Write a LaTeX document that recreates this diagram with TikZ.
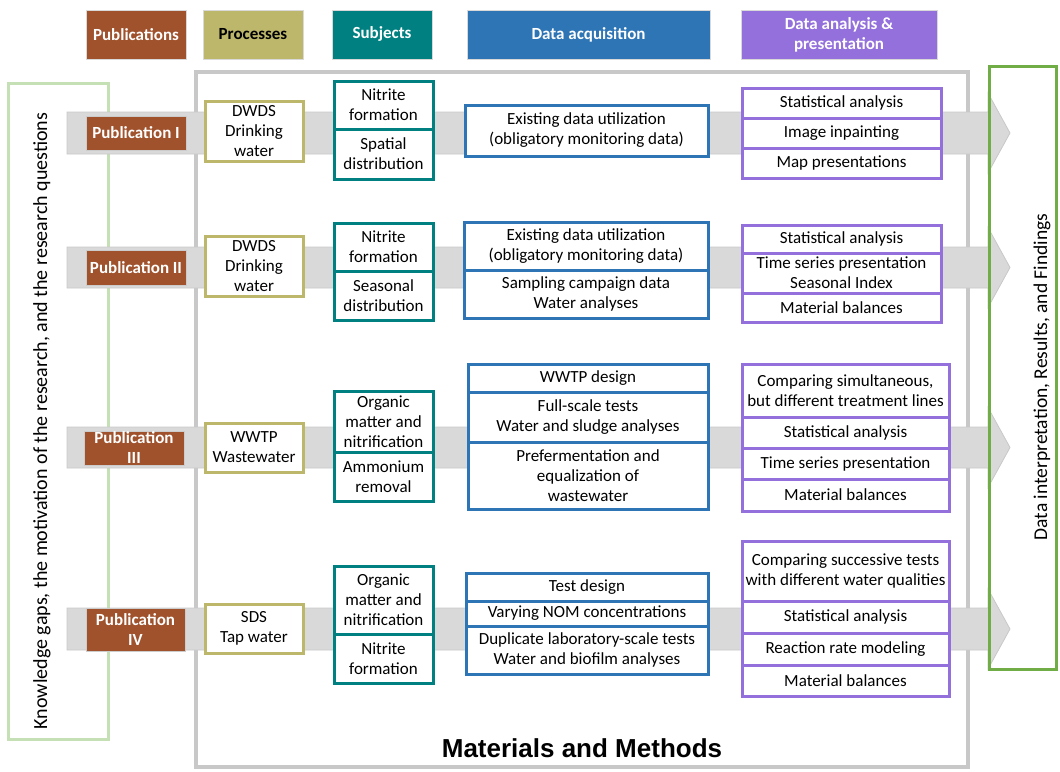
\documentclass[tikz,border=0pt]{standalone}
\usepackage{fontspec}
\setmainfont{Carlito}
\newfontfamily\mmfont{Liberation Sans}
\usepackage{xcolor}

\definecolor{pubbrown}{HTML}{A0522D}
\definecolor{procolive}{HTML}{BDB76B}
\definecolor{subjteal}{HTML}{008080}
\definecolor{acqblue}{HTML}{2E75B6}
\definecolor{anapurple}{HTML}{9370DB}
\definecolor{mmgray}{HTML}{C8C8C8}
\definecolor{bandgray}{HTML}{D9D9D9}
\definecolor{kgreen}{HTML}{C5E0B4}
\definecolor{rgreen}{HTML}{70AD47}

\newcommand{\bodyfont}{\fontsize{17}{20}\selectfont}
% cell: style, name, x1, y1, x2, y2, text (picture units are pixels)
\newcommand{\cellat}[7]{\node[#1, minimum width={#5-#3}, minimum height={#6-#4}] (#2) at ({(#3+#5)/2},{(#4+#6)/2}) {#7};}
% gray band with arrow head, from y1 to y2
\newcommand{\bandarrow}[2]{\filldraw[band] (67,#1) -- (988,#1) -- (988,{(#1+#2)/2-40}) -- (1010,{(#1+#2)/2}) -- (988,{(#1+#2)/2+40}) -- (988,#2) -- (67,#2) -- cycle;}

\tikzset{
    cell/.style={rectangle, outer sep=0pt, inner sep=1pt, line width=3pt, fill=white, align=center, font=\bodyfont},
    hdr/.style={cell, line width=1pt, draw=gray!30, text=white, font=\bodyfont\bfseries},
    pub/.style={cell, line width=0.6pt, draw=gray!40, fill=pubbrown, text=white, font=\bodyfont\bfseries},
    proc/.style={cell, draw=procolive},
    subj/.style={cell, draw=subjteal},
    acq/.style={cell, draw=acqblue},
    ana/.style={cell, draw=anapurple},
    band/.style={fill=bandgray, draw=mmgray, line width=0.8pt},
}

\begin{document}
\begin{tikzpicture}[x=1pt, y=-1pt]
\useasboundingbox (0,0) rectangle (1060,771);

% headers
\cellat{hdr, fill=pubbrown}{hpub}{86}{10}{186}{59}{Publications}
\cellat{hdr, fill=procolive, text=black}{hproc}{203}{10}{303}{59}{Processes}
\cellat{hdr, fill=subjteal}{hsubj}{332}{10}{432}{59}{\strut Subjects}
\cellat{hdr, fill=acqblue}{hacq}{467}{10}{710}{59}{Data acquisition}
\cellat{hdr, fill=anapurple}{hana}{741}{10}{937}{59}{Data analysis \&\\presentation}

% frames
\draw[kgreen, line width=3pt] (8,83) rectangle (108,739);
\node[rotate=90, font=\fontsize{20}{24}\selectfont] (kgap) at (42,421) {Knowledge gaps, the motivation of the research, and the research questions};
\draw[mmgray, line width=4pt] (196,72) rectangle (968,767);
\node[font=\mmfont\fontsize{26}{30}\selectfont\bfseries] (mm) at (582,748) {Materials and Methods};

% bands
\bandarrow{112}{154}
\bandarrow{247}{288}
\bandarrow{427}{468}
\bandarrow{608}{650}

\draw[rgreen, line width=3pt] (989,66) rectangle (1056,669);
\node[rotate=90, font=\fontsize{19.5}{23}\selectfont] (dirf) at (1042,377) {Data interpretation, Results, and Findings};

% Publication I
\cellat{pub}{pub1}{86}{116}{186}{150}{Publication I}
\cellat{proc}{proc1}{205}{101}{303}{161}{DWDS\\Drinking\\water}
\cellat{subj}{subj1a}{334}{81}{433}{129}{Nitrite\\formation}
\cellat{subj}{subj1b}{334}{129}{433}{179}{Spatial\\distribution}
\cellat{acq}{acq1a}{465}{105}{708}{156}{Existing data utilization\\(obligatory monitoring data)}
\cellat{ana}{ana1a}{742}{88}{941}{118}{Statistical analysis}
\cellat{ana}{ana1b}{742}{118}{941}{148}{Image inpainting}
\cellat{ana}{ana1c}{742}{148}{941}{178}{Map presentations}

% Publication II
\cellat{pub}{pub2}{86}{250}{186}{285}{Publication II}
\cellat{proc}{proc2}{205}{236}{303}{296}{DWDS\\Drinking\\water}
\cellat{subj}{subj2a}{334}{223}{433}{271}{Nitrite\\formation}
\cellat{subj}{subj2b}{334}{271}{433}{320}{Seasonal\\distribution}
\cellat{acq}{acq2a}{464}{222}{708}{270}{Existing data utilization\\(obligatory monitoring data)}
\cellat{acq}{acq2b}{464}{270}{708}{318}{Sampling campaign data\\Water analyses}
\cellat{ana}{ana2a}{742}{225}{941}{253}{Statistical analysis}
\cellat{ana}{ana2b}{742}{253}{941}{293}{Time series presentation\\Seasonal Index}
\cellat{ana}{ana2c}{742}{293}{941}{322}{Material balances}

% Publication III
\cellat{pub}{pub3}{84}{431}{184}{465}{Publication\\III}
\cellat{proc}{proc3}{205}{423}{303}{472}{WWTP\\Wastewater}
\cellat{subj}{subj3a}{334}{391}{433}{452}{Organic\\matter and\\nitrification}
\cellat{subj}{subj3b}{334}{452}{433}{501}{Ammonium\\removal}
\cellat{acq}{acq3a}{468}{364}{708}{392}{WWTP design}
\cellat{acq}{acq3b}{468}{392}{708}{442}{Full-scale tests\\Water and sludge analyses}
\cellat{acq}{acq3c}{468}{442}{708}{509}{Prefermentation and\\equalization of\\wastewater}
\cellat{ana}{ana3a}{742}{364}{949}{417}{Comparing simultaneous,\\but different treatment lines}
\cellat{ana}{ana3b}{742}{417}{949}{448}{Statistical analysis}
\cellat{ana}{ana3c}{742}{448}{949}{479}{Time series presentation}
\cellat{ana}{ana3d}{742}{479}{949}{511}{Material balances}

% Publication IV
\cellat{pub}{pub4}{86}{608}{185}{651}{Publication\\IV}
\cellat{proc}{proc4}{205}{604}{303}{653}{SDS\\Tap water}
\cellat{subj}{subj4a}{334}{566}{433}{634}{Organic\\matter and\\nitrification}
\cellat{subj}{subj4b}{334}{634}{433}{683}{Nitrite\\formation}
\cellat{acq}{acq4a}{466}{573}{708}{601}{Test design}
\cellat{acq}{acq4b}{466}{601}{708}{626}{Varying NOM concentrations}
\cellat{acq}{acq4c}{466}{626}{708}{674}{Duplicate laboratory-scale tests\\Water and biofilm analyses}
\cellat{ana}{ana4a}{742}{541}{949}{601}{Comparing successive tests\\with different water qualities}
\cellat{ana}{ana4b}{742}{601}{949}{633}{Statistical analysis}
\cellat{ana}{ana4c}{742}{633}{949}{665}{Reaction rate modeling}
\cellat{ana}{ana4d}{742}{665}{949}{696}{Material balances}
\end{tikzpicture}
\end{document}
